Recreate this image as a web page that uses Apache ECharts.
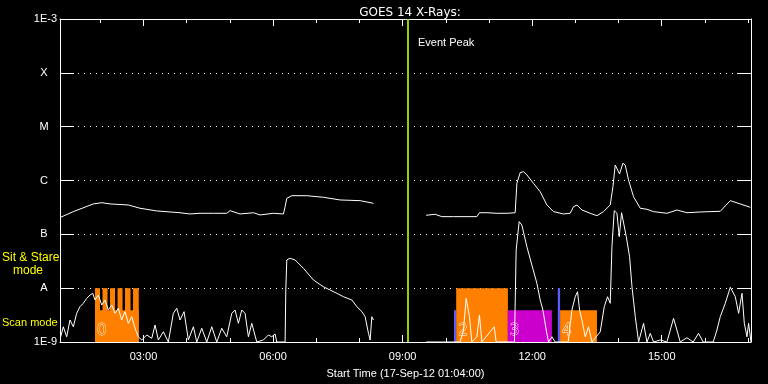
<!DOCTYPE html>
<html><head><meta charset="utf-8">
<script src="https://cdn.jsdelivr.net/npm/echarts@6/dist/echarts.min.js"></script>
<style>html,body{margin:0;padding:0;background:#000;}#c{width:768px;height:384px;}</style>
</head><body><div id="c"></div>
<script>
// ---- data (time in decimal hours UT, flux in W/m^2) ----
const titleText = 'GOES 14 X-Rays:';
const xTitle = 'Start Time (17-Sep-12 01:04:00)';
const startHour = 1 + 4 / 60;
const spanHours = 16;
const xTickHours = [3, 6, 9, 12, 15];
const xTickLabels = ['03:00', '06:00', '09:00', '12:00', '15:00'];
const hourTicks = [2, 3, 4, 5, 6, 7, 8, 9, 10, 11, 12, 13, 14, 15, 16, 17];
const yTickExp = [-9, -8, -7, -6, -5, -4, -3];
const yTickLabels = ['1E-9', 'A', 'B', 'C', 'M', 'X', '1E-3'];
const eventPeak = 9 + 8 / 60;

// 1-8 Angstrom channel
const longTime = [1.083,1.375,1.838,2.033,2.225,2.649,2.92,3.307,3.846,4.078,
  4.31,4.618,4.928,5.005,5.236,5.545,5.7,6.008,6.24,6.279,
  6.318,6.434,6.781,7.166,7.553,8.016,8.324,
  8.9,
  9.545,9.753,9.908,10.177,10.719,10.779,10.951,11.182,11.414,11.606,
  11.646,11.722,11.799,11.877,12.03,12.186,12.341,12.494,12.726,12.88,
  12.957,13.036,13.151,13.344,13.499,13.652,13.807,13.87,13.923,13.963,
  14.023,14.1,14.154,14.231,14.347,14.502,14.657,14.81,15.12,15.352,
  15.584,15.892,16.355,16.587,16.818,17.05];
const longFlux = [2.08e-7,2.64e-7,3.67e-7,3.87e-7,3.67e-7,3.51e-7,3.05e-7,2.72e-7,2.52e-7,2.39e-7,
  2.46e-7,2.46e-7,2.46e-7,2.75e-7,2.39e-7,2.52e-7,2.29e-7,2.46e-7,2.39e-7,3.26e-7,
  4.67e-7,5.22e-7,5.22e-7,4.88e-7,4.35e-7,4.22e-7,3.77e-7,
  null,
  2.26e-7,2.36e-7,2.13e-7,2.13e-7,2.13e-7,2.52e-7,2.52e-7,2.46e-7,2.46e-7,2.52e-7,
  8.87e-7,1.40e-6,1.46e-6,1.27e-6,8.87e-7,6.19e-7,3.51e-7,2.64e-7,2.39e-7,2.46e-7,
  3.26e-7,3.51e-7,2.83e-7,2.46e-7,2.22e-7,2.64e-7,3.51e-7,7.67e-7,1.94e-6,2.03e-6,
  1.32e-6,2.09e-6,1.94e-6,1.02e-6,5.00e-7,3.05e-7,2.92e-7,2.64e-7,2.46e-7,2.83e-7,
  2.52e-7,2.60e-7,2.68e-7,4.22e-7,3.67e-7,3.18e-7];

// 0.5-4 Angstrom channel
const shortTime = [1.083,1.143,1.222,1.298,1.375,1.453,1.53,1.606,1.685,1.762,
  1.824,1.877,1.954,2.033,2.109,2.186,2.264,2.341,2.417,2.496,
  2.572,2.649,2.728,2.804,2.88,2.959,3.075,3.191,3.267,3.344,
  3.46,3.575,3.691,3.77,3.846,3.939,4.039,4.155,4.233,4.349,
  4.465,4.581,4.696,4.812,4.928,5.044,5.12,5.197,5.276,5.352,
  5.429,5.507,5.623,5.776,5.892,5.97,6.047,6.086,6.279,6.295,
  6.318,6.395,6.511,6.703,6.935,7.166,7.321,7.476,7.629,7.824,
  7.94,8.056,8.132,8.209,8.248,8.287,8.324,
  8.9,
  9.545,10.332,10.409,10.471,10.501,10.548,10.603,10.719,10.779,10.835,
  11.12,11.166,11.59,11.629,11.699,11.761,11.877,11.993,12.109,12.186,
  12.248,12.325,12.378,12.457,12.533,12.834,12.92,12.997,13.05,13.097,
  13.152,13.229,13.305,13.384,13.576,13.669,13.745,13.807,13.847,13.9,
  13.963,14.016,14.07,14.116,14.179,14.255,14.311,14.387,14.464,14.579,
  14.658,14.734,14.81,14.965,15.12,15.273,15.351,15.428,15.583,15.729,
  15.852,15.96,16.192,16.278,16.355,16.471,16.587,16.703,16.78,16.858,
  16.912,16.974,17.011,17.067];
const shortFlux = [1.25e-9,1.92e-9,1.25e-9,2.56e-9,1.92e-9,3.41e-9,4.53e-9,5.23e-9,6.48e-9,7.46e-9,
  8.03e-9,6.03e-9,7.46e-9,4.87e-9,6.03e-9,3.93e-9,4.87e-9,3.41e-9,4.23e-9,2.56e-9,
  3.66e-9,2.22e-9,2.95e-9,1.80e-9,1.25e-9,1.09e-9,1.35e-9,1.17e-9,2.07e-9,1.09e-9,
  1.55e-9,1.0e-9,3.41e-9,4.23e-9,2.56e-9,3.66e-9,1.09e-9,1.92e-9,1.0e-9,1.80e-9,
  1.0e-9,1.92e-9,1.0e-9,1.80e-9,1.25e-9,3.41e-9,3.93e-9,2.22e-9,3.93e-9,3.41e-9,
  1.25e-9,2.22e-9,1.0e-9,1.09e-9,1.35e-9,1.25e-9,1.41e-9,1.0e-9,1.0e-9,9.25e-9,
  3.34e-8,3.59e-8,3.34e-8,2.34e-8,1.42e-8,1.06e-8,9.25e-9,8.03e-9,6.94e-9,6.03e-9,
  4.53e-9,3.66e-9,2.95e-9,1.45e-9,1.09e-9,2.95e-9,2.56e-9,
  null,
  1e-9,1e-9,1.67e-9,6.48e-9,6.03e-9,2.95e-9,1e-9,1.25e-9,3.17e-9,1e-9,
  1.92e-9,1e-9,1e-9,5.12e-8,1.72e-7,1.49e-7,5.89e-8,2.69e-8,1.23e-8,6.03e-9,
  3.93e-9,1.67e-9,1e-9,1.25e-9,1e-9,1e-9,3.93e-9,6.94e-9,8.60e-9,3.93e-9,
  2.56e-9,1.25e-9,1.92e-9,1e-9,1.55e-9,4.53e-9,6.94e-9,5.23e-9,5.89e-8,2.75e-7,
  2.46e-7,9.04e-8,2.52e-7,2.46e-7,9.04e-8,3.85e-8,1.06e-8,2.95e-9,1e-9,2.22e-9,
  1e-9,1.45e-9,1e-9,1.09e-9,1e-9,2.75e-9,1.67e-9,1e-9,1.2e-9,1e-9,
  1.45e-9,1e-9,1e-9,1.67e-9,2.95e-9,5.23e-9,1.04e-8,6.94e-9,3.41e-9,8.03e-9,
  2.22e-9,1.25e-9,2.22e-9,1e-9];

// observing-mode blocks
const blockStart = [1.877, 1.877, 2.051, 2.225, 2.399, 2.572, 2.758, 10.19, 10.24, 11.433, 12.593, 12.646];
const blockEnd   = [2.89,  1.993, 2.167, 2.341, 2.515, 2.7,   2.89,  10.24, 11.438, 12.457, 12.646, 13.5];
const blockMode  = ['scan','stare','stare','stare','stare','stare','stare','scan','stare','scan','stare','scan'];
const blockType  = ['a','a','a','a','a','a','a','b','a','c','b','a'];
const blockLabel = ['0','','','','','','','','2','3','','4'];
const modeLevel = { scan: 3.9e-9, stare: 1e-8 };

// ---- chart ----
const FONT = '"Liberation Sans", Arial, sans-serif';
const typeColor = { a: '#ff8000', b: '#5c5cff', c: '#cc00cc' };
const tMin = startHour, tMax = startHour + spanHours;

const zip = (t, v) => t.map((x, i) => [x, v[i] == null ? '-' : v[i]]);
const blockData = blockStart.map((s, i) => [s, blockEnd[i], modeLevel[blockMode[i]], i]);

function renderBlock(params, api) {
  const i = api.value(3);
  const p0 = api.coord([api.value(0), 1e-9]);
  const p1 = api.coord([api.value(1), api.value(2)]);
  const col = typeColor[blockType[i]];
  const children = [{
    type: 'rect', z2: 1,
    shape: { x: p0[0], y: p1[1], width: p1[0] - p0[0], height: p0[1] - p1[1] },
    style: { fill: col }
  }];
  if (blockLabel[i]) {
    children.push({
      type: 'text', z2: 50,
      style: { text: blockLabel[i], x: p0[0] + 2, y: p0[1] - 3, verticalAlign: 'bottom', align: 'left',
        font: '15px "DejaVu Sans", sans-serif', fill: col, stroke: '#fff', lineWidth: 0.8 }
    });
  }
  return { type: 'group', children };
}

const white = '#fff';
const xCommon = { type: 'value', min: tMin, max: tMax, splitLine: { show: false } };
const yCommon = { type: 'log', logBase: 10, min: 1e-9, max: 1e-3, interval: 1, minorTick: { show: false }, minorSplitLine: { show: false } };

const option = {
  backgroundColor: '#000',
  animation: false,
  title: { text: titleText, left: 405, top: 2, textAlign: 'center',
    textStyle: { color: white, fontSize: 12, fontWeight: 'normal', fontFamily: 'DejaVu Sans' } },
  grid: { left: 60, right: 17, top: 19, bottom: 42 },
  xAxis: [
    Object.assign({}, xCommon, { position: 'bottom',
      axisLine: { show: true, lineStyle: { color: white, width: 1 } },
      axisTick: { show: true, inside: true, length: 4, customValues: hourTicks, lineStyle: { color: white } },
      axisLabel: { show: true, customValues: xTickHours, color: white, fontSize: 11, fontFamily: FONT, margin: 9,
        formatter: v => xTickLabels[xTickHours.indexOf(Math.round(v))] || '' },
      name: xTitle, nameLocation: 'middle', nameGap: 26,
      nameTextStyle: { color: white, fontSize: 11, fontFamily: FONT } }),
    Object.assign({}, xCommon, { position: 'bottom',
      axisLine: { show: false }, axisLabel: { show: false },
      axisTick: { show: true, inside: true, length: 7, customValues: xTickHours, lineStyle: { color: white } } }),
    Object.assign({}, xCommon, { position: 'top',
      axisLine: { show: true, lineStyle: { color: white } }, axisLabel: { show: false },
      axisTick: { show: true, inside: true, length: 4, customValues: hourTicks, lineStyle: { color: white } } }),
    Object.assign({}, xCommon, { position: 'top',
      axisLine: { show: false }, axisLabel: { show: false },
      axisTick: { show: true, inside: true, length: 7, customValues: xTickHours, lineStyle: { color: white } } })
  ],
  yAxis: [
    Object.assign({}, yCommon, { position: 'left',
      axisLine: { show: true, lineStyle: { color: white } },
      axisTick: { show: true, inside: true, length: 14, lineStyle: { color: white } },
      axisLabel: { color: white, fontSize: 11, fontFamily: FONT, margin: 3,
        formatter: v => {
          const k = yTickExp.indexOf(Math.round(Math.log10(v)));
          const s = yTickLabels[k] || '';
          return s.length === 1 ? '{l|' + s + '}' : s;
        },
        rich: { l: { width: 26, align: 'center', color: white, fontSize: 11, fontFamily: FONT } } },
      splitLine: { show: true, lineStyle: { color: white, type: [1, 5], width: 1 } } }),
    Object.assign({}, yCommon, { position: 'right',
      axisLine: { show: true, lineStyle: { color: white } },
      axisTick: { show: true, inside: true, length: 14, lineStyle: { color: white } },
      axisLabel: { show: false }, splitLine: { show: false } })
  ],
  graphic: [
    { type: 'text', left: 418, top: 37, style: { text: 'Event Peak', fill: white, font: '11px ' + FONT } },
    { type: 'text', left: 2, top: 252, style: { text: 'Sit & Stare', fill: '#ffff00', font: '12px ' + FONT } },
    { type: 'text', left: 13, top: 265, style: { text: 'mode', fill: '#ffff00', font: '12px ' + FONT } },
    { type: 'text', left: 2, top: 317, style: { text: 'Scan mode', fill: '#ffff00', font: '11px ' + FONT } }
  ],
  series: [
    { type: 'custom', name: 'modes', renderItem: renderBlock, data: blockData,
      encode: { x: [0, 1], y: 2 }, z: 1, silent: true },
    { type: 'line', name: 'long', data: zip(longTime, longFlux), symbol: 'none', showSymbol: false,
      connectNulls: false, lineStyle: { color: white, width: 1 }, z: 3, silent: true,
      markLine: { silent: true, symbol: ['none', 'none'], label: { show: false },
        lineStyle: { color: '#99cc00', width: 2, type: 'solid' }, data: [{ xAxis: eventPeak }] } },
    { type: 'line', name: 'short', data: zip(shortTime, shortFlux), symbol: 'none', showSymbol: false,
      connectNulls: false, lineStyle: { color: white, width: 1 }, z: 3, silent: true }
  ]
};

const chart = echarts.init(document.getElementById('c'), null, { renderer: 'canvas' });
chart.setOption(option);
</script></body></html>
